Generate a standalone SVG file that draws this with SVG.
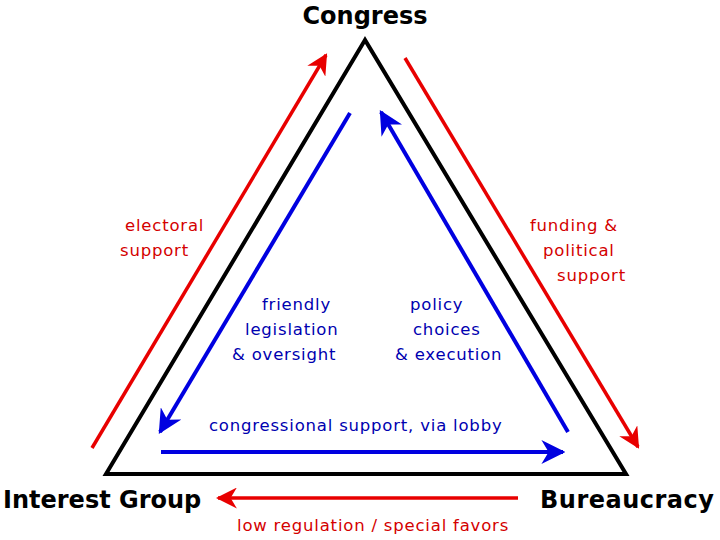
<svg xmlns="http://www.w3.org/2000/svg" width="720" height="540" viewBox="0 0 720 540">
<style>
.node{font-family:"DejaVu Sans","Liberation Sans",sans-serif;font-weight:bold;font-size:24px;fill:#000}
.rl{font-family:"DejaVu Sans","Liberation Sans",sans-serif;font-size:16.5px;letter-spacing:0.8px;fill:#d40000}
.bl{font-family:"DejaVu Sans","Liberation Sans",sans-serif;font-size:16.5px;letter-spacing:0.8px;fill:#0000b0}
.red{stroke:#e80000;stroke-width:3.5;fill:none}
.blue{stroke:#0000e0;stroke-width:4;fill:none}
</style>
<defs>
<marker id="ar" viewBox="0 0 10 10" refX="9" refY="5" markerWidth="6" markerHeight="6" markerUnits="strokeWidth" orient="auto">
<path d="M0,0 L10,5 L0,10 L3,5 z" fill="#e80000"/>
</marker>
<marker id="ab" viewBox="0 0 10 10" refX="9" refY="5" markerWidth="6" markerHeight="6" markerUnits="strokeWidth" orient="auto">
<path d="M0,0 L10,5 L0,10 L3,5 z" fill="#0000e0"/>
</marker>
</defs>
<rect width="720" height="540" fill="#fff"/>
<g id="triangle">
<polygon points="365,40 106,474 626,474" fill="none" stroke="#000" stroke-width="4" stroke-linejoin="miter"/>
</g>
<g id="congress"><text class="node" x="365" y="24" text-anchor="middle">Congress</text></g>
<g id="interest-group"><text class="node" x="3" y="508">Interest Group</text></g>
<g id="bureaucracy"><text class="node" x="540" y="508" letter-spacing="0.5">Bureaucracy</text></g>
<g id="connectors">
<line class="red" x1="92" y1="448" x2="326" y2="55" marker-end="url(#ar)"/>
<line class="red" x1="405" y1="58" x2="638" y2="447" marker-end="url(#ar)"/>
<line class="blue" x1="350" y1="113" x2="160" y2="432" marker-end="url(#ab)"/>
<line class="blue" x1="568" y1="432" x2="381" y2="112" marker-end="url(#ab)"/>
<line class="blue" x1="161" y1="452" x2="563" y2="452" marker-end="url(#ab)"/>
<line class="red" x1="518" y1="498" x2="218" y2="498" marker-end="url(#ar)"/>
</g>
<g id="labels">
<text class="rl" x="125" y="231">electoral</text>
<text class="rl" x="120" y="256">support</text>
<text class="rl" x="530" y="231">funding &amp;</text>
<text class="rl" x="543" y="256">political</text>
<text class="rl" x="557" y="281">support</text>
<text class="bl" x="262" y="310">friendly</text>
<text class="bl" x="245" y="335">legislation</text>
<text class="bl" x="232" y="360">&amp; oversight</text>
<text class="bl" x="410" y="310">policy</text>
<text class="bl" x="413" y="335">choices</text>
<text class="bl" x="395" y="360">&amp; execution</text>
<text class="bl" x="209" y="431">congressional support, via lobby</text>
<text class="rl" x="237" y="531">low regulation / special favors</text>
</g>
</svg>
